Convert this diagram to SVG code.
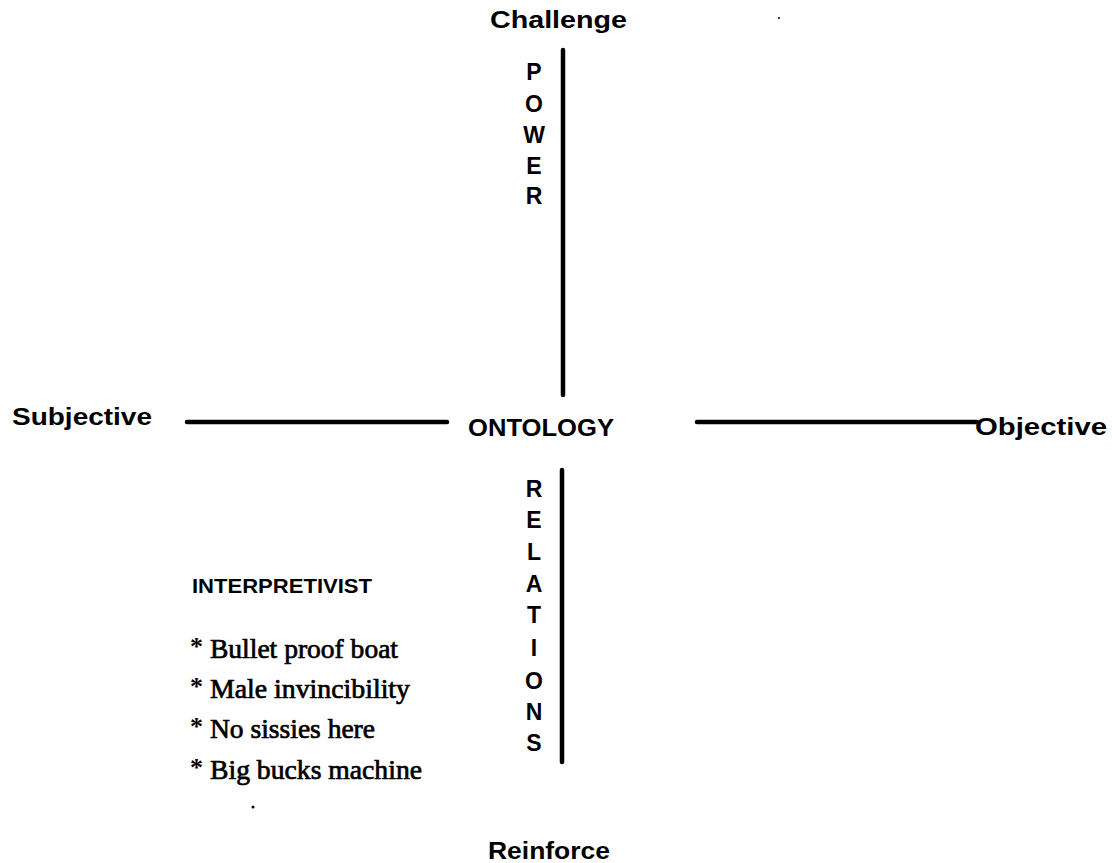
<svg xmlns="http://www.w3.org/2000/svg" width="1112" height="863" viewBox="0 0 1112 863">
  <style>
    .label { font-family: "Liberation Sans", Arial, sans-serif; font-weight: bold; fill: #000; }
    .axis { font-size: 23px; }
    .vert { font-size: 23px; text-anchor: middle; }
    .head { font-family: "Liberation Sans", Arial, sans-serif; font-weight: bold; font-size: 21px; fill: #000; }
    .item { font-family: "Liberation Serif", "Times New Roman", serif; font-size: 27px; fill: #000; stroke: #000; stroke-width: 0.7; }
    .star { font-family: "Liberation Serif", "Times New Roman", serif; font-weight: bold; font-size: 26px; fill: #000; }
    .rule { stroke: #000; stroke-width: 4.5; stroke-linecap: round; fill: none; }
  </style>

  <rect width="1112" height="863" fill="#fff"/>

  <!-- axes -->
  <g id="connectors">
    <line class="rule" x1="563" y1="50" x2="563" y2="395"/>
    <line class="rule" x1="562" y1="470" x2="562" y2="762"/>
    <line class="rule" x1="187" y1="422" x2="447" y2="422"/>
    <line class="rule" x1="697" y1="422" x2="977" y2="422"/>
  </g>

  <g id="challenge">
    <text class="label axis" x="490" y="28" font-size="21" textLength="137" lengthAdjust="spacingAndGlyphs">Challenge</text>
  </g>

  <g id="power">
    <text class="label vert" x="534" y="80">P</text>
    <text class="label vert" x="534" y="112">O</text>
    <text class="label vert" x="534" y="143">W</text>
    <text class="label vert" x="534" y="174">E</text>
    <text class="label vert" x="534" y="204">R</text>
  </g>

  <g id="subjective">
    <text class="label axis" x="12" y="425" textLength="140" lengthAdjust="spacingAndGlyphs">Subjective</text>
  </g>

  <g id="ontology">
    <text class="label axis" x="468" y="436" textLength="146" lengthAdjust="spacingAndGlyphs">ONTOLOGY</text>
  </g>

  <g id="objective">
    <text class="label axis" x="975" y="435" textLength="132" lengthAdjust="spacingAndGlyphs">Objective</text>
  </g>

  <g id="relations">
    <text class="label vert" x="534" y="497">R</text>
    <text class="label vert" x="534" y="528">E</text>
    <text class="label vert" x="534" y="560">L</text>
    <text class="label vert" x="534" y="592">A</text>
    <text class="label vert" x="534" y="623">T</text>
    <text class="label vert" x="534" y="656">I</text>
    <text class="label vert" x="534" y="689">O</text>
    <text class="label vert" x="534" y="720">N</text>
    <text class="label vert" x="534" y="751">S</text>
  </g>

  <g id="interpretivist">
    <text class="head" x="192" y="593" textLength="180" lengthAdjust="spacingAndGlyphs">INTERPRETIVIST</text>
    <text class="star" x="190" y="655">*</text>
    <text class="item" x="210" y="658" textLength="188" lengthAdjust="spacingAndGlyphs">Bullet proof boat</text>
    <text class="star" x="190" y="695">*</text>
    <text class="item" x="210" y="698" textLength="200" lengthAdjust="spacingAndGlyphs">Male invincibility</text>
    <text class="star" x="190" y="735">*</text>
    <text class="item" x="210" y="738" textLength="165" lengthAdjust="spacingAndGlyphs">No sissies here</text>
    <text class="star" x="190" y="776">*</text>
    <text class="item" x="210" y="779" textLength="212" lengthAdjust="spacingAndGlyphs">Big bucks machine</text>
  </g>

  <g id="reinforce">
    <text class="label axis" x="488" y="859" textLength="122" lengthAdjust="spacingAndGlyphs">Reinforce</text>
  </g>

  <!-- small specks -->
  <circle cx="253" cy="807" r="1.5" fill="#000"/>
  <circle cx="779" cy="18" r="1" fill="#000"/>
</svg>
